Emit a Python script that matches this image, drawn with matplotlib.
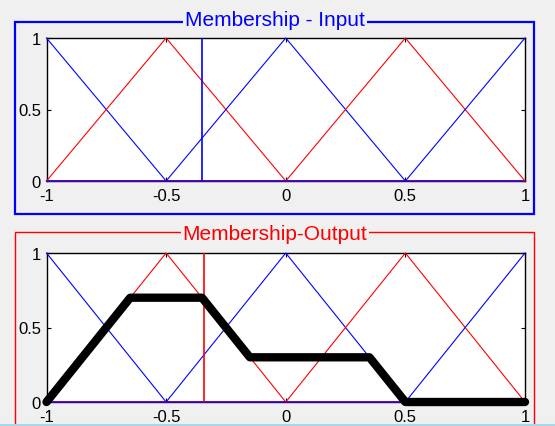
import matplotlib
matplotlib.use("Agg")
import matplotlib.pyplot as plt
import numpy as np
from matplotlib.patches import Rectangle
from matplotlib.lines import Line2D

# --- membership functions: (left foot, peak, right foot) -----------------
mf_params = [(-1.5, -1.0, -0.5), (-1.0, -0.5, 0.0), (-0.5, 0.0, 0.5),
             (0.0, 0.5, 1.0), (0.5, 1.0, 1.5)]
mf_colors = ["blue", "red", "blue", "red", "blue"]

input_value = -0.35       # crisp input marker
output_value = -0.34      # defuzzified output marker

# aggregated (clipped) output set
agg_x = [-1.0, -0.65, -0.35, -0.15, 0.35, 0.5, 1.0]
agg_y = [0.0, 0.7, 0.7, 0.3, 0.3, 0.0, 0.0]

x_ticks = [-1, -0.5, 0, 0.5, 1]
x_ticklabels = ["-1", "-0.5", "0", "0.5", "1"]
y_ticks = [0, 0.5, 1]
y_ticklabels = ["0", "0.5", "1"]

W, H = 555, 427
BG = "#f0f0f0"
FONT = "Liberation Sans"

fig = plt.figure(figsize=(W / 100, H / 100), dpi=100, facecolor=BG)


def fx(px):
    return px / W


def fy(py):
    return 1 - py / H


def tri_points(a, b, c):
    """Corner points of a triangle MF over the [-1, 1] universe."""
    corners = [a, b, c]
    heights = [0.0, 1.0, 0.0]
    xs = sorted(set([-1.0, 1.0] + [x for x in corners if -1.0 <= x <= 1.0]))
    ys = list(np.interp(xs, corners, heights, left=0.0, right=0.0))
    return xs, ys


def panel(top_px, bot_px):
    ax = fig.add_axes([fx(46.5), fy(bot_px), fx(525) - fx(46.5),
                       fy(top_px) - fy(bot_px)])
    ax.set_facecolor("white")
    for (a, b, c), col in zip(mf_params, mf_colors):
        xs, ys = tri_points(a, b, c)
        ax.plot(xs, ys, color=col, lw=0.8, clip_on=False, zorder=3)
    ax.set_xlim(-1, 1)
    ax.set_ylim(0, 1)
    ax.set_xticks(x_ticks)
    ax.set_xticklabels(x_ticklabels)
    ax.set_yticks(y_ticks)
    ax.set_yticklabels(y_ticklabels)
    ax.tick_params(direction="in", length=3, width=0.8, top=True,
                   right=True, labelsize=12, colors="black")
    ax.tick_params(axis="x", pad=5)
    ax.tick_params(axis="y", pad=4)
    for lab in ax.get_xticklabels() + ax.get_yticklabels():
        lab.set_fontfamily(FONT)
    for sp in ax.spines.values():
        sp.set_linewidth(1.0)
        sp.set_zorder(2)
    return ax


# --- input panel --------------------------------------------------------
ax1 = panel(39, 182)
ax1.axvline(input_value, color="blue", lw=1.2, zorder=4)

# --- output panel -------------------------------------------------------
ax2 = panel(254, 403)
ax2.axvline(output_value, color="red", lw=1.2, zorder=4)
ax2.plot(agg_x, agg_y, color="black", lw=6, solid_joinstyle="round",
         solid_capstyle="round", clip_on=False, zorder=5)

# --- group frames with titles sitting on the border ---------------------
fig.add_artist(Rectangle((fx(15), fy(215)), fx(534) - fx(15),
                         fy(22.5) - fy(215), transform=fig.transFigure,
                         fill=False, edgecolor="blue", lw=1.6))
fig.add_artist(Rectangle((fx(15), fy(440)), fx(534) - fx(15),
                         fy(233) - fy(440), transform=fig.transFigure,
                         fill=False, edgecolor="red", lw=1.0,
                         clip_on=False))
fig.text(fx(275), fy(21), "Membership - Input", color="blue",
         fontsize=15, family=FONT, ha="center", va="center",
         bbox=dict(facecolor=BG, edgecolor="none", pad=1.5))
fig.text(fx(275), fy(234), "Membership-Output", color="red",
         fontsize=15, family=FONT, ha="center", va="center",
         bbox=dict(facecolor=BG, edgecolor="none", pad=1.5))

fig.add_artist(Line2D([0, 1], [fy(426), fy(426)], color="#a6d8ec", lw=1.5,
                      transform=fig.transFigure))

fig.savefig("out.png", dpi=100, facecolor=BG)
